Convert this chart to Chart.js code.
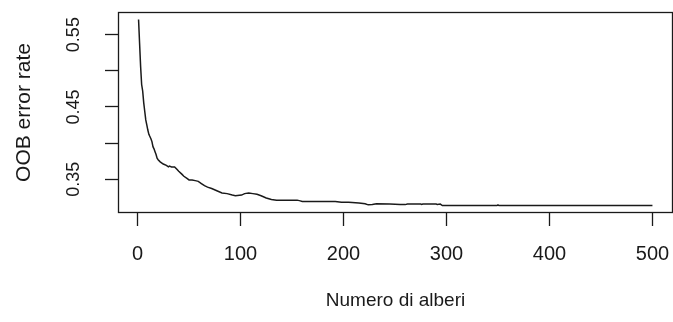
<!DOCTYPE html>
<html>
<head>
<meta charset="utf-8">
<script src="https://cdn.jsdelivr.net/npm/chart.js@4"></script>
<style>
  html, body { margin: 0; padding: 0; background: #ffffff; }
  #wrap { width: 673px; height: 322px; }
</style>
</head>
<body>
<div id="wrap"><canvas id="c" width="673" height="322"></canvas></div>
<script>
// ---- data ----
const trees = [1,2,3,4,5,6,7,8,9,10,11,12,13,14,15,16,17,18,19,20,22,25,28,30,31,33,36,38,40,43,45,48,50,53,56,59,62,65,68,72,77,82,87,92,95,101,104,108,112,116,120,125,130,135,145,155,158,160,175,192,198,205,215,221,224,228,232,245,255,260,262,275,276,277,290,291,294,296,349,350,351,500];
const oobError = [0.571,0.538,0.506,0.481,0.472,0.456,0.444,0.432,0.425,0.418,0.412,0.409,0.406,0.402,0.395,0.392,0.388,0.384,0.379,0.377,0.374,0.371,0.369,0.367,0.368,0.367,0.367,0.364,0.361,0.357,0.354,0.351,0.349,0.349,0.348,0.347,0.344,0.341,0.339,0.337,0.334,0.331,0.330,0.328,0.327,0.328,0.330,0.331,0.330,0.329,0.327,0.324,0.322,0.321,0.321,0.321,0.320,0.319,0.319,0.319,0.318,0.318,0.317,0.316,0.3145,0.315,0.316,0.3155,0.315,0.3148,0.3155,0.3155,0.315,0.3155,0.3155,0.315,0.3155,0.3135,0.3135,0.3145,0.3135,0.3135];
const xTicks = [0,100,200,300,400,500];
const yTicks = [0.35,0.40,0.45,0.50,0.55];
const yTickLabels = [0.35,0.45,0.55];
const xTitle = 'Numero di alberi';
const yTitle = 'OOB error rate';

// R-style 4% axis extension
const nT = Math.max(...trees), n0 = Math.min(...trees);
const xMin = n0 - 0.04 * (nT - n0), xMax = nT + 0.04 * (nT - n0);
const eMin = Math.min(...oobError), eMax = Math.max(...oobError);
const yMin = eMin - 0.04 * (eMax - eMin), yMax = eMax + 0.04 * (eMax - eMin);

const points = trees.map((t, i) => ({x: t, y: oobError[i]}));

const FONT = "'Liberation Sans', Arial, sans-serif";
const INK = '#1a1a1a';

const boxPlugin = {
  id: 'rbox',
  afterDraw(chart) {
    const a = chart.chartArea, ctx = chart.ctx;
    ctx.save();
    ctx.strokeStyle = INK;
    ctx.lineWidth = 1.3;
    ctx.strokeRect(a.left + 0.5, a.top + 0.5, a.right - a.left - 1, a.bottom - a.top - 1);
    ctx.restore();
  }
};

new Chart(document.getElementById('c'), {
  type: 'line',
  data: {
    datasets: [{
      data: points,
      borderColor: INK,
      borderWidth: 1.5,
      pointRadius: 0,
      tension: 0,
      fill: false
    }]
  },
  options: {
    responsive: false,
    animation: false,
    devicePixelRatio: 1,
    layout: { padding: { top: 12, left: 0, right: 0, bottom: 0 } },
    plugins: { legend: { display: false }, tooltip: { enabled: false } },
    scales: {
      x: {
        type: 'linear',
        min: xMin,
        max: xMax,
        afterBuildTicks: s => { s.ticks = xTicks.map(v => ({value: v})); },
        afterFit: s => { s.height = 109; s.paddingLeft = 0; s.paddingRight = 0; },
        border: { display: false },
        grid: { display: true, drawOnChartArea: false, drawTicks: true, tickLength: 13, tickColor: INK, tickWidth: 1.3 },
        ticks: {
          padding: 16,
          maxRotation: 0,
          autoSkip: false,
          color: INK,
          font: { family: FONT, size: 20 },
          callback: v => String(v)
        },
        title: {
          display: true,
          text: xTitle,
          color: INK,
          font: { family: FONT, size: 19 },
          padding: { top: 0, bottom: 10 }
        }
      },
      y: {
        type: 'linear',
        min: yMin,
        max: yMax,
        afterBuildTicks: s => { s.ticks = yTicks.map(v => ({value: v})); },
        afterFit: s => { s.width = 118; s.paddingTop = 0; s.paddingBottom = 0; },
        border: { display: false },
        grid: { display: true, drawOnChartArea: false, drawTicks: true, tickLength: 13, tickColor: INK, tickWidth: 1.3 },
        ticks: {
          padding: 13,
          minRotation: 90,
          maxRotation: 90,
          crossAlign: 'center',
          autoSkip: false,
          color: INK,
          font: { family: FONT, size: 18 },
          callback: v => (yTickLabels.some(t => Math.abs(t - v) < 1e-9) ? v.toFixed(2) : '')
        },
        title: {
          display: true,
          text: yTitle,
          color: INK,
          font: { family: FONT, size: 21 },
          padding: { top: 12, bottom: 0 }
        }
      }
    }
  },
  plugins: [boxPlugin]
});
</script>
</body>
</html>
